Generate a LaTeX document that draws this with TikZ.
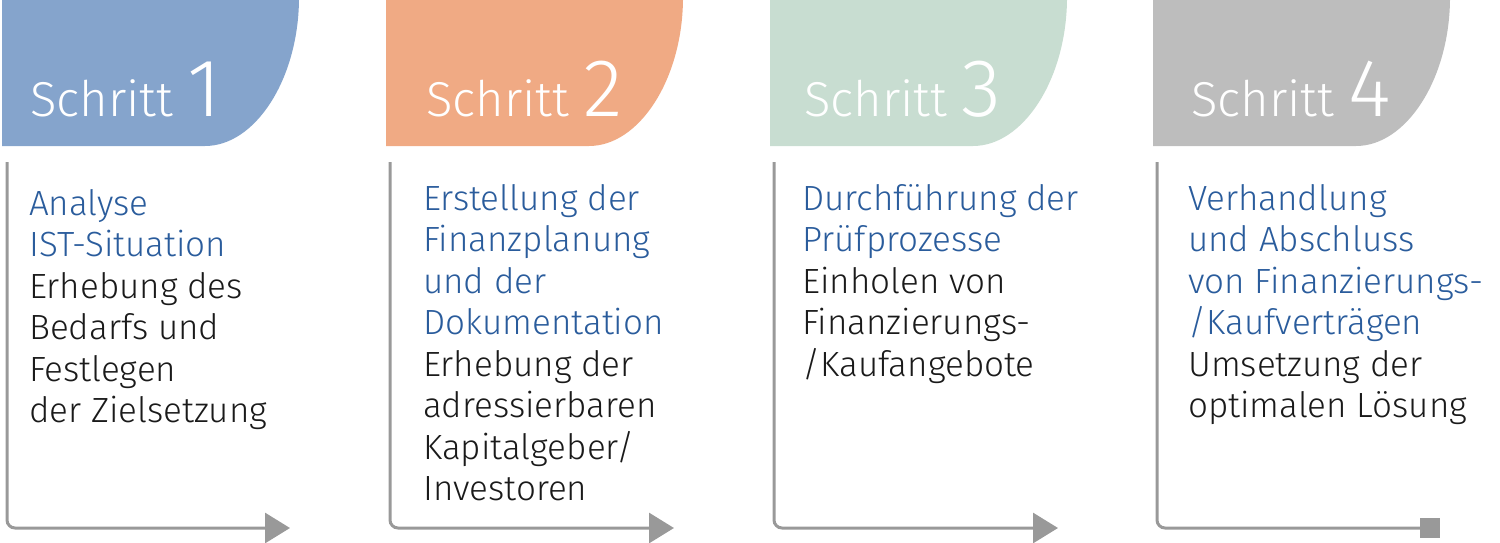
\documentclass[tikz,border=0pt]{standalone}
\usepackage{fontspec}
\setmainfont{Fira Sans}
\newfontfamily\lightfont{Fira Sans}[UprightFont=* Light]
\usetikzlibrary{arrows.meta}
\definecolor{tabA}{HTML}{85A4CC}
\definecolor{tabB}{HTML}{F0AA84}
\definecolor{tabC}{HTML}{C8DDD1}
\definecolor{tabD}{HTML}{BDBDBD}
\definecolor{headblue}{HTML}{2A5C9C}
\definecolor{bodyblack}{HTML}{1A1A1A}
\definecolor{linegray}{HTML}{999999}
\tikzset{
  tabtext/.style={anchor=base west, inner sep=0pt, text=white, font=\lightfont\fontsize{49}{56}\selectfont},
  bodytext/.style={anchor=north west, inner sep=0pt, align=left, text=bodyblack, font=\lightfont\fontsize{35}{41.5}\selectfont},
  conn/.style={draw=linegray, line width=3pt, rounded corners=8pt},
  tri/.style={-{Triangle[width=30pt,length=25pt]}},
  sq/.style={-{Square[width=20pt,length=20pt]}},
}
\newcommand{\tabshape}[2]{%
  \fill[#2] (#1+0,0) -- (#1+297,0) .. controls (#1+296,80) and (#1+253,146) .. (#1+203,146) -- (#1+0,146) -- cycle;}
\newcommand{\bignum}[1]{{\fontsize{82}{90}\selectfont #1}}
\begin{document}
\begin{tikzpicture}[x=1pt,y=-1pt]
\useasboundingbox (0,0) rectangle (1500,542);
% tabs
\tabshape{2}{tabA}
\tabshape{386}{tabB}
\tabshape{770}{tabC}
\tabshape{1153}{tabD}
\node[tabtext] (t1) at (30,116) {Schritt\hspace{14pt}\bignum{1}};
\node[tabtext] (t2) at (426,116) {Schritt\hspace{14pt}\bignum{2}};
\node[tabtext] (t3) at (804,116) {Schritt\hspace{14pt}\bignum{3}};
\node[tabtext] (t4) at (1191,116) {Schritt\hspace{14pt}\bignum{4}};
% texts
\node[bodytext] (b1) at (29,189) {\textcolor{headblue}{Analyse}\\\textcolor{headblue}{IST-Situation}\\Erhebung des\\Bedarfs und\\Festlegen\\der Zielsetzung};
\node[bodytext] (b2) at (423,184) {\textcolor{headblue}{Erstellung der}\\\textcolor{headblue}{Finanzplanung}\\\textcolor{headblue}{und der}\\\textcolor{headblue}{Dokumentation}\\Erhebung der\\adressierbaren\\Kapitalgeber/\\Investoren};
\node[bodytext] (b3) at (802,184) {\textcolor{headblue}{Durchführung der}\\\textcolor{headblue}{Prüfprozesse}\\Einholen von\\Finanzierungs-\\/Kaufangebote};
\node[bodytext] (b4) at (1188,184) {\textcolor{headblue}{Verhandlung}\\\textcolor{headblue}{und Abschluss}\\\textcolor{headblue}{von Finanzierungs-}\\\textcolor{headblue}{/Kaufverträgen}\\Umsetzung der\\optimalen Lösung};
% connectors
\coordinate (s1) at (7,162);   \coordinate (e1) at (290,528);
\coordinate (s2) at (390,162); \coordinate (e2) at (674,528);
\coordinate (s3) at (774,162); \coordinate (e3) at (1058,528);
\coordinate (s4) at (1157,162); \coordinate (e4) at (1440,528);
\draw[conn,tri] (s1) |- (e1);
\draw[conn,tri] (s2) |- (e2);
\draw[conn,tri] (s3) |- (e3);
\draw[conn,sq] (s4) |- (e4);
\end{tikzpicture}
\end{document}
